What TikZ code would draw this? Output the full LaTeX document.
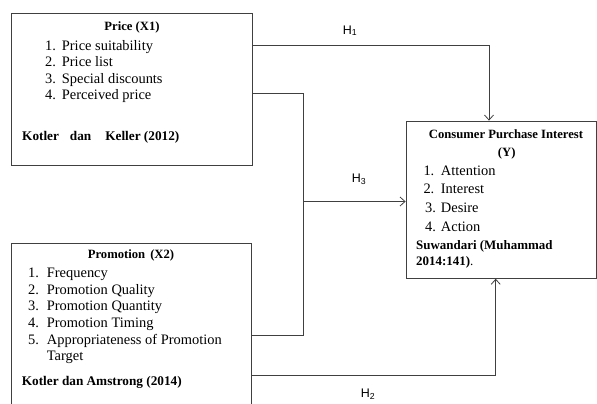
\documentclass[tikz,border=0pt]{standalone}
\usepackage{fontspec}
\setmainfont{Liberation Serif}
\newfontfamily\hypfont{Liberation Sans}
\usetikzlibrary{arrows.meta}

\begin{document}
\begin{tikzpicture}[x=1bp,y=-1bp,>={Straight Barb[length=5bp,width=9bp]},
  every node/.style={inner sep=0pt,anchor=base west,font=\fontsize{14.5}{16}\selectfont},
  box/.style={draw=black!75,line width=0.8bp,anchor=center},
  head/.style={font=\fontsize{12.7}{14}\selectfont\bfseries},
  src/.style={font=\fontsize{13.3}{15}\selectfont\bfseries},
  link/.style={draw=black!75,line width=0.8bp},
  hyp/.style={font=\hypfont\fontsize{12.5}{14}\selectfont}]
  \useasboundingbox (0,0) rectangle (597,403);
  % variable boxes
  \node[box,minimum width=241.5bp,minimum height=152.4bp] (price) at (131.75,89.5) {};
  \node[box,minimum width=240bp,minimum height=180bp] (promo) at (131,333) {};
  \node[box,minimum width=190bp,minimum height=157.3bp] (cpi) at (501,199.65) {};
  % price (X1)
  \node[head,anchor=base] (price-title) at (132,30.7) {Price (X1)};
  \foreach \t [count=\n] in {Price suitability,Price list,Special discounts,Perceived price}{
    \node (price-num\n) at (45,{50+16.5*(\n-1)}) {\n.};
    \node (price-item\n) at (61.7,{50+16.5*(\n-1)}) {\t};
  }
  \node[src] (price-src) at (22,140) {Kotler\hspace{11bp}dan\hspace{14bp}Keller (2012)};
  % promotion (X2)
  \node[head,anchor=base] (promo-title) at (131,258) {Promotion\hspace{5bp}(X2)};
  \foreach \t [count=\n] in {Frequency,Promotion Quality,Promotion Quantity,Promotion Timing,Appropriateness of Promotion}{
    \node (promo-num\n) at (28,{277.7+16.6*(\n-1)}) {\n.};
    \node (promo-item\n) at (46.7,{277.7+16.6*(\n-1)}) {\t};
  }
  \node (promo-item5b) at (46.7,360.7) {Target};
  \node[src] (promo-src) at (21.7,385.7) {Kotler dan Amstrong (2014)};
  % consumer purchase interest (Y)
  \node[head,anchor=base] (cpi-title) at (506,138.3) {Consumer Purchase Interest};
  \node[head,anchor=base] (cpi-y) at (506.7,156.7) {(Y)};
  \foreach \t/\y/\x [count=\n] in {Attention/175/423.3,Interest/193.3/423.3,Desire/212.3/425,Action/231.7/425}{
    \node (cpi-num\n) at (\x,\y) {\n.};
    \node (cpi-item\n) at (440.7,\y) {\t};
  }
  \node[src,font=\fontsize{13}{15}\selectfont\bfseries] (cpi-src) at (416,249) {Suwandari (Muhammad};
  \node[font=\fontsize{13}{15}\selectfont] (cpi-src2) at (416,265.7) {\textbf{2014:141)}.};
  % hypotheses
  \coordinate (c1) at (489,45);
  \draw[link,->] (price.east |- c1) -| (cpi.north -| c1);
  \coordinate (jt) at (303.3,93);
  \coordinate (jb) at (303.3,335);
  \coordinate (jm) at (303.3,201.5);
  \draw[link] (price.east |- jt) -- (jt) -- (jb) -- (promo.east |- jb);
  \draw[link,->] (jm) -- (cpi.west |- jm);
  \coordinate (c2) at (495.7,375.5);
  \draw[link,->] (promo.east |- c2) -| (cpi.south -| c2);
  \node[hyp] (h1) at (342.7,34) {H\textsubscript{1}};
  \node[hyp] (h3) at (351.7,182.7) {H\textsubscript{3}};
  \node[hyp] (h2) at (360.7,397.3) {H\textsubscript{2}};
\end{tikzpicture}
\end{document}
